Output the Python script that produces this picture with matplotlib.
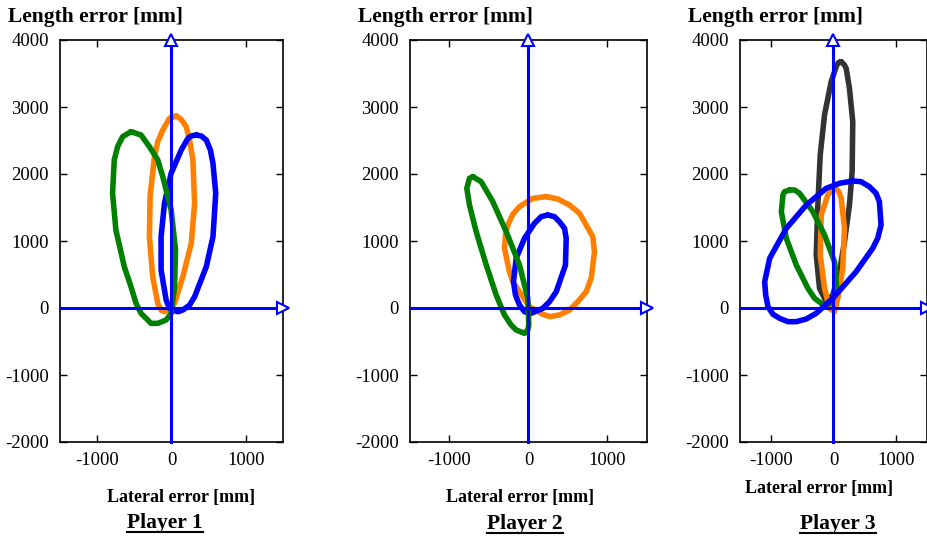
import matplotlib
matplotlib.use("Agg")
import matplotlib.pyplot as plt
from matplotlib.lines import Line2D

plt.rcParams["font.family"] = ["Liberation Serif", "DejaVu Serif"]
plt.rcParams["axes.unicode_minus"] = False

W, H = 928, 538

# error loops, (lateral, length) in mm
P1_ORANGE = [(63, 2866), (131, 2816), (198, 2706), (243, 2507), (288, 2209), (311, 1562),
             (266, 966), (153, 467), (41, 70), (-27, -20), (-95, -55), (-140, -30),
             (-185, 70), (-253, 467), (-297, 1064), (-288, 1663), (-230, 2258),
             (-185, 2483), (-117, 2657), (-27, 2831)]
P1_BLUE = [(333, 2582), (401, 2567), (468, 2507), (523, 2358), (558, 2159), (595, 1712),
           (558, 1064), (468, 616), (311, 169), (243, 45), (153, -30), (86, -55),
           (41, -40), (-27, -5), (-72, 119), (-140, 567), (-140, 1064), (-95, 1562),
           (-5, 2010), (131, 2358), (221, 2532), (266, 2567)]
P1_GREEN = [(-545, 2632), (-410, 2582), (-297, 2408), (-185, 2209), (-117, 1960),
            (-5, 1463), (54, 866), (41, 318), (-5, -80), (-72, -179), (-185, -229),
            (-275, -229), (-342, -154), (-410, -80), (-477, 70), (-545, 318), (-635, 616),
            (-748, 1164), (-793, 1712), (-770, 2209), (-725, 2408), (-658, 2557)]

P2_ORANGE = [(224, 1662), (371, 1627), (519, 1537), (646, 1413), (730, 1239), (814, 1064),
             (835, 840), (794, 443), (730, 243), (624, 94), (519, -30), (392, -104),
             (266, -129), (181, -94), (13, 19), (-114, 243), (-199, 393), (-241, 542),
             (-304, 891), (-291, 1090), (-262, 1239), (-199, 1398), (-114, 1512), (54, 1637)]
P2_BLUE = [(244, 1388), (329, 1363), (392, 1288), (456, 1189), (477, 1040), (468, 642),
           (351, 243), (266, 94), (181, -5), (34, -79), (-51, -55), (-114, 45), (-165, 194),
           (-190, 393), (-156, 742), (-51, 1040), (76, 1264), (160, 1363)]
P2_GREEN = [(-705, 1960), (-599, 1885), (-452, 1587), (-282, 1139), (-114, 642), (-9, 145),
            (4, -254), (-9, -328), (-51, -378), (-156, -328), (-219, -254), (-304, -104),
            (-409, 194), (-535, 642), (-662, 1139), (-747, 1537), (-781, 1786), (-747, 1936)]

P3_GRAY = [(123, 3676), (176, 3627), (203, 3577), (256, 3279), (309, 2781), (299, 2035),
           (256, 1537), (176, 990), (96, 542), (-11, 194), (-117, 94), (-224, 294),
           (-277, 791), (-251, 1537), (-213, 2284), (-144, 2881), (-37, 3378), (53, 3627),
           (85, 3667)]
P3_ORANGE = [(32, 1786), (85, 1736), (123, 1637), (176, 1189), (149, 592), (69, 145),
             (16, -55), (-64, -5), (-144, 294), (-213, 791), (-197, 1388), (-91, 1687),
             (-21, 1761)]
P3_GREEN = [(-704, 1761), (-624, 1761), (-544, 1712), (-331, 1438), (-144, 1090), (16, 691),
            (53, 294), (-37, 70), (-117, 55), (-197, 70), (-304, 145), (-411, 294),
            (-597, 642), (-757, 1040), (-837, 1438), (-811, 1687), (-784, 1736)]
P3_BLUE = [(309, 1896), (443, 1885), (576, 1811), (683, 1712), (736, 1587), (763, 1239),
           (709, 1040), (629, 891), (363, 542), (-11, 145), (-277, -79), (-437, -164),
           (-597, -204), (-731, -204), (-864, -154), (-971, -94), (-1051, 19), (-1088, 194),
           (-1104, 393), (-1024, 742), (-757, 1189), (-437, 1537), (-117, 1786), (96, 1861)]

PLAYERS = ["Player 1", "Player 2", "Player 3"]
X_TICKS = [-1000, 0, 1000]
Y_TICKS = [-2000, -1000, 0, 1000, 2000, 3000, 4000]

ORANGE = "#ff8000"
BLUE = "#0000ff"
GREEN = "#008000"
GRAY = "#333333"

panels = [
    dict(box=(60, 40, 283, 442), ylab_x=8, xlab=(181, 502), name=(165, 528),
         loops=[(ORANGE, P1_ORANGE), (BLUE, P1_BLUE), (GREEN, P1_GREEN)]),
    dict(box=(410, 40, 647, 442), ylab_x=358, xlab=(520, 502), name=(525, 529),
         loops=[(ORANGE, P2_ORANGE), (BLUE, P2_BLUE), (GREEN, P2_GREEN)]),
    dict(box=(740, 40, 927, 442), ylab_x=688, xlab=(819, 493), name=(838, 529),
         loops=[(GRAY, P3_GRAY), (ORANGE, P3_ORANGE), (GREEN, P3_GREEN), (BLUE, P3_BLUE)]),
]

fig = plt.figure(figsize=(W / 100, H / 100), dpi=100)

name_texts = []
for i, p in enumerate(panels):
    l, t, r, b = p["box"]
    ax = fig.add_axes([l / W, 1 - b / H, (r - l) / W, (b - t) / H])
    ax.set_xlim(-1500, 1500)
    ax.set_ylim(-2000, 4000)
    ax.set_xticks(X_TICKS)
    ax.set_yticks(Y_TICKS)
    ax.tick_params(direction="in", top=True, right=True, length=5, width=1,
                   labelsize=13.5, colors="black")
    ax.tick_params(axis="x", pad=7)
    ax.tick_params(axis="y", pad=8)
    for s in ax.spines.values():
        s.set_linewidth(1.2)

    for color, pts in p["loops"]:
        xs = [q[0] for q in pts] + [pts[0][0]]
        ys = [q[1] for q in pts] + [pts[0][1]]
        ax.plot(xs, ys, color=color, lw=4, solid_joinstyle="round",
                solid_capstyle="round", zorder=3)

    # coordinate axes with open arrow heads
    ax.plot([-1500, 1500], [0, 0], color=BLUE, lw=2.2, zorder=5, clip_on=False)
    ax.plot([0, 0], [-2000, 4000], color=BLUE, lw=2.2, zorder=5, clip_on=False)
    ax.plot([1500], [0], marker=">", ms=8, mfc="white", mec=BLUE, mew=1.5,
            zorder=6, clip_on=False)
    ax.plot([0], [4000], marker="^", ms=8, mfc="white", mec=BLUE, mew=1.5,
            zorder=6, clip_on=False)

    fig.text(p["ylab_x"] / W, 1 - 22 / H, "Length error [mm]", fontsize=15.5,
             fontweight="bold", ha="left", va="baseline")
    fig.text(p["xlab"][0] / W, 1 - p["xlab"][1] / H, "Lateral error [mm]", fontsize=13,
             fontweight="bold", ha="center", va="baseline")
    name_texts.append(fig.text(p["name"][0] / W, 1 - p["name"][1] / H, PLAYERS[i],
                               fontsize=15.5, fontweight="bold", ha="center",
                               va="baseline"))

# underline the player names
fig.canvas.draw()
renderer = fig.canvas.get_renderer()
for txt in name_texts:
    bb = txt.get_window_extent(renderer)
    y = bb.y0 + 1.5
    fig.add_artist(Line2D([bb.x0 / W, bb.x1 / W], [y / H, y / H], color="black",
                          lw=1.5, transform=fig.transFigure))

fig.savefig("out.png", dpi=100)
